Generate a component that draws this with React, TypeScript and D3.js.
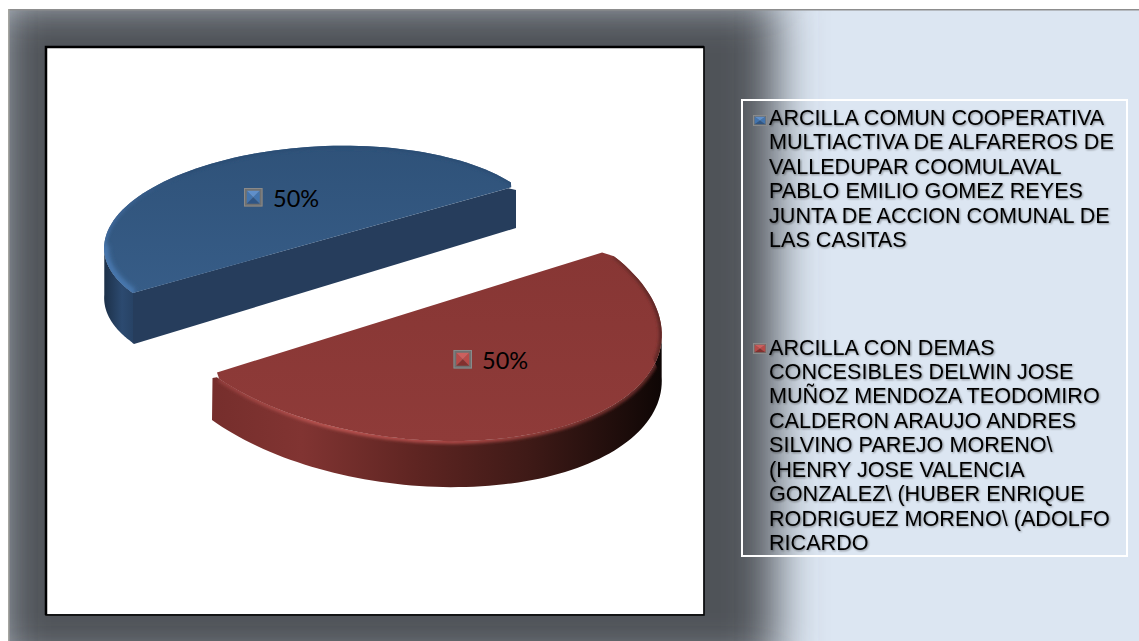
import React from 'react';
import * as d3 from 'd3';

const seriesNames = ['ARCILLA COMUN COOPERATIVA', 'ARCILLA CON DEMAS'];
const shares = [50, 50];
const shareLabels = ['50%', '50%'];
const legendLinesA = [
  'ARCILLA COMUN COOPERATIVA',
  'MULTIACTIVA DE ALFAREROS DE',
  'VALLEDUPAR COOMULAVAL',
  'PABLO EMILIO GOMEZ REYES',
  'JUNTA DE ACCION COMUNAL DE',
  'LAS CASITAS',
];
const legendLinesB = [
  'ARCILLA CON DEMAS',
  'CONCESIBLES DELWIN JOSE',
  'MUÑOZ MENDOZA TEODOMIRO',
  'CALDERON ARAUJO ANDRES',
  'SILVINO PAREJO MORENO\\',
  '(HENRY JOSE VALENCIA',
  'GONZALEZ\\ (HUBER ENRIQUE',
  'RODRIGUEZ MORENO\\ (ADOLFO',
  'RICARDO',
];

type Frame = { cx: number; cy: number; vx: number; vy: number; ux: number; uy: number; depth: number };
const frames: Frame[] = [
  { cx: 324.5, cy: 239.5, vx: 191.5, vy: -53.5, ux: -109, uy: -77, depth: 46 },
  { cx: 409.5, cy: 312.5, vx: 197.5, vy: -61.5, ux: -157, uy: -113, depth: 46 },
];

const pie = d3.pie<number>().sort(null).startAngle(0).endAngle(2 * Math.PI);
const arcs = pie(shares);

const pt = (f: Frame, t: number): [number, number] => [
  f.cx + f.vx * Math.cos(t) + f.ux * Math.sin(t),
  f.cy + f.vy * Math.cos(t) + f.uy * Math.sin(t),
];
const sample = (f: Frame, a: number, b: number) => {
  const n = 80;
  const s = d3.scaleLinear().domain([0, n]).range([a, b]);
  return d3.range(n + 1).map((i) => pt(f, s(i)));
};
const line = d3.line();
const closed = (p: [number, number][]) => (line(p) as string) + 'Z';

const stopsOf = (st: [number, string][]) => st.map(([o, c], i) => <stop key={i} offset={o} stopColor={c} />);

function Key({ x, y, w, h, c }: { x: number; y: number; w: number; h: number; c: string[] }) {
  const b = Math.min(w, h) * 0.15;
  const mx = w / 2;
  const my = h / 2;
  return (
    <g transform={`translate(${x},${y})`}>
      <rect width={w} height={h} fill="#6f7070" />
      <rect x={0.5} y={0.5} width={w - 1} height={h - 1} fill="none" stroke="#8a8a8a" strokeWidth={1} />
      <polygon points={`${b},${b} ${w - b},${b} ${mx},${my}`} fill={c[0]} />
      <polygon points={`${b},${b} ${mx},${my} ${b},${h - b}`} fill={c[1]} />
      <polygon points={`${w - b},${b} ${w - b},${h - b} ${mx},${my}`} fill={c[1]} />
      <polygon points={`${b},${h - b} ${w - b},${h - b} ${mx},${my}`} fill={c[2]} />
    </g>
  );
}

const blueKey = ['#5f8fca', '#4274ae', '#2f5584'];
const redKey = ['#cc605e', '#b84a48', '#82302e'];

/** Face outline; the ends named by the flags get softly cut corners. */
function faceOutline(f: Frame, a: number, b: number, cutA: boolean, cutB: boolean): [number, number][] {
  const trim = 0.045;
  const k = 0.975;
  const arc = sample(f, a + (cutA ? trim : 0), b - (cutB ? trim : 0));
  const sa = Math.cos(a);
  const sb = Math.cos(b);
  const out: [number, number][] = [];
  if (cutA) out.push([f.cx + f.vx * sa * k, f.cy + f.vy * sa * k]);
  out.push(...arc);
  if (cutB) out.push([f.cx + f.vx * sb * k, f.cy + f.vy * sb * k]);
  return out;
}

export default function App() {
  const [fb, fr] = frames;
  const ab = arcs[0];
  const ar = arcs[1];

  const blueTop = sample(fb, ab.startAngle, ab.endAngle);
  const blueFace = faceOutline(fb, ab.startAngle, ab.endAngle, true, false);
  const redFace = faceOutline(fr, ar.startAngle, ar.endAngle, true, true);
  const down = (p: [number, number][], d: number) => p.map(([x, y]) => [x, y + d] as [number, number]).reverse();

  const blueOuter = sample(fb, ab.endAngle - 0.55, ab.endAngle);
  const redOuter = sample(fr, ar.startAngle, ar.endAngle - 0.64);
  const redArcEdge = sample(fr, ar.startAngle + 0.045, ar.endAngle - 0.045);
  const redWallTop: [number, number][] = [
    [redOuter[0][0] + 0.5, redOuter[0][1] + 4],
    ...sample(fr, ar.startAngle + 0.03, ar.endAngle - 0.64),
  ];
  const [bR, bL] = [pt(fb, ab.startAngle), pt(fb, ab.endAngle)];
  const blueChordWall: [number, number][] = [
    [bL[0] - 0.5, bL[1]],
    [fb.cx + fb.vx * 0.96, fb.cy + fb.vy * 0.96],
    [bR[0], bR[1] + 4],
    [bR[0], bR[1] + fb.depth - 4],
    [bL[0] + 1, bL[1] + fb.depth + 5],
    [bL[0] - 0.5, bL[1] + fb.depth + 4],
  ];

  const legend = (lines: string[], y0: number, k: string) =>
    lines.map((t, i) => (
      <text key={k + i} x={769} y={y0 + i * 24.45} filter="url(#txtShadow)" fontFamily="'Liberation Sans', Arial, sans-serif" fontSize={21.6} fill="#000">
        {t}
      </text>
    ));

  return (
    <svg width={1139} height={641} style={{ position: 'absolute', left: 0, top: 0, background: '#fff' }} aria-label={seriesNames.join(' / ')}>
      <defs>
        <clipPath id="panel"><rect x={8} y={9} width={1131} height={632} /></clipPath>
        <filter id="shade" x="-15%" y="-15%" width="130%" height="130%"><feGaussianBlur stdDeviation="23" /></filter>
        <filter id="soft2" x="-10%" y="-10%" width="120%" height="120%"><feGaussianBlur stdDeviation="1.4" /></filter>
        <filter id="soft3" x="-30%" y="-30%" width="160%" height="160%"><feGaussianBlur stdDeviation="2.4" /></filter>
        <filter id="txtShadow" x="-5%" y="-30%" width="110%" height="170%">
          <feGaussianBlur in="SourceAlpha" stdDeviation="1.1" result="b" />
          <feOffset in="b" dx="1" dy="1" result="o" />
          <feComponentTransfer in="o" result="o2"><feFuncA type="linear" slope="0.42" /></feComponentTransfer>
          <feMerge><feMergeNode in="o2" /><feMergeNode in="SourceGraphic" /></feMerge>
        </filter>
        <linearGradient id="blueFace" gradientUnits="userSpaceOnUse" x1={0} y1={146} x2={0} y2={297}>
          {stopsOf([[0, '#2f5279'], [1, '#375d88']])}
        </linearGradient>
        <linearGradient id="redFace" gradientUnits="userSpaceOnUse" x1={0} y1={251} x2={0} y2={441}>
          {stopsOf([[0, '#873634'], [1, '#8f3b39']])}
        </linearGradient>
        <linearGradient id="blueWall" gradientUnits="userSpaceOnUse" x1={104} y1={0} x2={134} y2={0}>
          {stopsOf([[0, '#1c3048'], [0.6, '#2c4a70'], [1, '#274264']])}
        </linearGradient>
        <linearGradient id="redWall" gradientUnits="userSpaceOnUse" x1={212} y1={0} x2={662} y2={0}>
          {stopsOf([[0, '#762e2c'], [0.2, '#813432'], [0.45, '#5f2522'], [0.7, '#3f1a17'], [0.92, '#1c0c0a'], [1, '#0e0605']])}
        </linearGradient>
        <linearGradient id="redRim" gradientUnits="userSpaceOnUse" x1={212} y1={0} x2={662} y2={0}>
          {stopsOf([[0, '#8f3c3a'], [0.25, '#b85350'], [0.55, '#a84644'], [0.8, '#843734'], [1, '#5c2624']])}
        </linearGradient>
        <linearGradient id="blueRim" gradientUnits="userSpaceOnUse" x1={104} y1={300} x2={190} y2={170}>
          {stopsOf([[0, '#4a79ae'], [0.45, '#3d6698'], [1, '#2c4d74']])}
        </linearGradient>
        <clipPath id="blueClip"><path d={closed(blueFace)} /></clipPath>
        <clipPath id="redClip"><path d={closed([...redFace, ...down(redOuter, fr.depth)])} /></clipPath>
      </defs>

      <g clipPath="url(#panel)">
        <rect x={8} y={9} width={1131} height={632} fill="#dce6f2" />
        <rect x={-4} y={-2} width={780} height={670} fill="#4f5358" filter="url(#shade)" />
        <rect x={8} y={9} width={1131} height={1.5} fill="#8d8d8d" />
        <rect x={8} y={9} width={1.5} height={632} fill="#a5a5a0" />
      </g>

      <rect x={47} y={48} width={656.5} height={566} fill="#fff" />
      <path d="M46,615 V47 H704 V615 Z" fill="none" stroke="#000" strokeWidth={1.5} />
      <path d="M46,615 V47 H704" fill="none" stroke="#000" strokeWidth={2.5} />

      {/* blue slice */}
      <path d={closed(blueChordWall)} fill="#263d5c" />
      <path d={closed([...blueOuter, ...down(blueOuter, fb.depth + 4)])} fill="url(#blueWall)" />
      <path d={closed(blueFace)} fill="url(#blueFace)" />
      <g clipPath="url(#blueClip)">
        <path d={line(blueTop) as string} fill="none" stroke="url(#blueRim)" strokeWidth={5} filter="url(#soft2)" />
        <path d={line(blueOuter) as string} fill="none" stroke="#4676ac" strokeWidth={9} filter="url(#soft3)" />
      </g>

      {/* red slice */}
      <path d={closed([...redWallTop, ...down(redOuter, fr.depth)])} fill="url(#redWall)" />
      <path d={closed(redFace)} fill="url(#redFace)" />
      <g clipPath="url(#redClip)">
        <path d={line(redArcEdge) as string} fill="none" stroke="url(#redRim)" strokeWidth={5.5} filter="url(#soft2)" />
      </g>

      <Key x={244} y={188} w={18.5} h={18.5} c={blueKey} />
      <text x={273} y={207} fontFamily="Lato, Carlito, sans-serif" fontSize={23.5} fill="#000">{shareLabels[0]}</text>
      <Key x={453.5} y={350} w={18.5} h={18.5} c={redKey} />
      <text x={482} y={369} fontFamily="Lato, Carlito, sans-serif" fontSize={23.5} fill="#000">{shareLabels[1]}</text>

      <rect x={742} y={100} width={385} height={456} fill="none" stroke="#fff" strokeWidth={2} />
      <Key x={753} y={115} w={14} h={11} c={blueKey} />
      <Key x={753} y={343} w={14} h={11} c={redKey} />
      {legend(legendLinesA, 125, 'a')}
      {legend(legendLinesB, 354.5, 'b')}
    </svg>
  );
}
